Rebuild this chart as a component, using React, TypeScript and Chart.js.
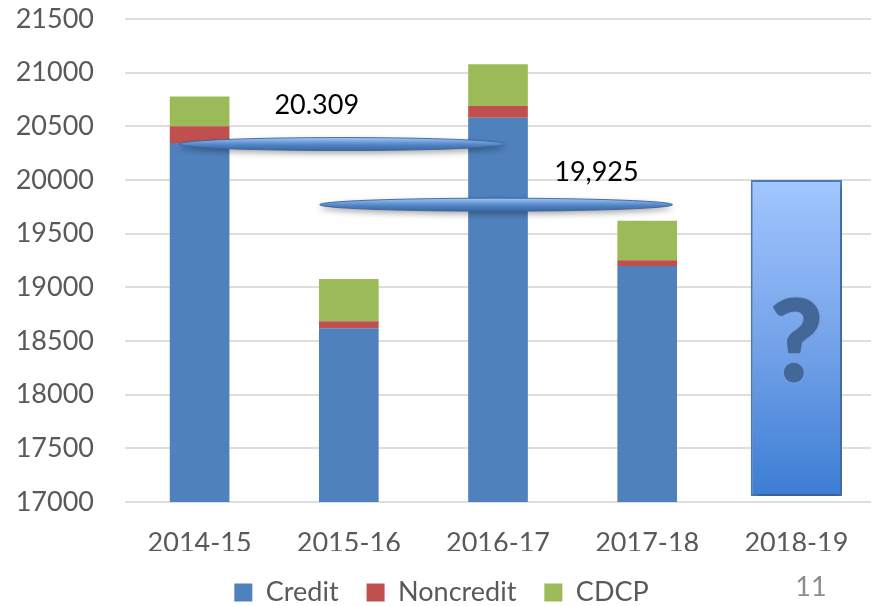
import React, { useEffect, useRef } from "react";
import { Chart, registerables } from "chart.js";

Chart.register(...registerables);

const categories = ["2014-15", "2015-16", "2016-17", "2017-18", "2018-19"];
const credit = [20345, 18618, 20581, 19199, null];
const noncredit = [155, 65, 109, 53, null];
const cdcp = [277, 395, 388, 369, null];
const projected = [null, null, null, null, [17056, 20000]];

const yMin = 17000;
const yMax = 21500;
const yStep = 500;

// Callout "capsules" (data coordinates: category index range and y value)
const capsuleLevels = [20335, 19770];
const capsuleFrom = [-0.134, 0.805];
const capsuleTo = [2.047, 3.17];
const capsuleLabels = ["20.309", "19,925"];
const capsuleLabelX = [0.785, 2.66];
const capsuleLabelY = [20699, 20070];

const pageNumber = "11";

const FONT = "Lato, 'Open Sans', sans-serif";
const TEXT = "#595959";

const overlayPlugin = {
  id: "overlay",
  beforeDatasetDraw(chart: any, args: any) {
    if (args.index === 3) {
      const ctx = chart.ctx;
      ctx.save();
      ctx.shadowColor = "rgba(0,0,0,0.35)";
      ctx.shadowBlur = 7;
      ctx.shadowOffsetX = 2;
      ctx.shadowOffsetY = 3;
    }
  },
  afterDatasetDraw(chart: any, args: any) {
    if (args.index === 3) chart.ctx.restore();
  },
  afterDatasetsDraw(chart: any) {
    const { ctx, scales } = chart;
    const x = scales.x;
    const y = scales.y;
    // question mark on projected bar
    const bar = chart.getDatasetMeta(3).data[4];
    if (bar) {
      const p = bar.getProps(["x", "y", "base"], true);
      const cy = (p.y + p.base) / 2;
      ctx.save();
      ctx.font = `bold 112px ${FONT}`;
      ctx.textAlign = "center";
      ctx.textBaseline = "middle";
      ctx.lineJoin = "round";
      ctx.strokeStyle = "rgba(120,160,220,0.95)";
      ctx.lineWidth = 5;
      ctx.strokeText("?", p.x, cy + 6);
      ctx.fillStyle = "#44679a";
      ctx.strokeStyle = "#44679a";
      ctx.lineWidth = 3;
      ctx.strokeText("?", p.x, cy + 6);
      ctx.fillText("?", p.x, cy + 6);
      ctx.restore();
    }
    // capsules
    for (let i = 0; i < capsuleLevels.length; i++) {
      const x1 = x.getPixelForValue(capsuleFrom[i]);
      const x2 = x.getPixelForValue(capsuleTo[i]);
      const cy = y.getPixelForValue(capsuleLevels[i]);
      const cx = (x1 + x2) / 2;
      const rx = (x2 - x1) / 2;
      const ry = 6.5;
      ctx.save();
      ctx.shadowColor = "rgba(0,0,0,0.35)";
      ctx.shadowBlur = 6;
      ctx.shadowOffsetY = 3;
      const g = ctx.createLinearGradient(0, cy - ry, 0, cy + ry);
      g.addColorStop(0, "#a9c8f2");
      g.addColorStop(0.35, "#6c9cdc");
      g.addColorStop(0.6, "#4f81bd");
      g.addColorStop(1, "#3a68a6");
      ctx.fillStyle = g;
      ctx.beginPath();
      ctx.ellipse(cx, cy, rx, ry, 0, 0, Math.PI * 2);
      ctx.fill();
      ctx.shadowColor = "transparent";
      ctx.strokeStyle = "rgba(58,100,160,0.9)";
      ctx.lineWidth = 1;
      ctx.stroke();
      ctx.restore();
    }
    // capsule labels
    ctx.save();
    ctx.font = `27px ${FONT}`;
    ctx.fillStyle = "#000000";
    ctx.textAlign = "center";
    ctx.textBaseline = "middle";
    for (let i = 0; i < capsuleLabels.length; i++) {
      ctx.fillText(
        capsuleLabels[i],
        x.getPixelForValue(capsuleLabelX[i]),
        y.getPixelForValue(capsuleLabelY[i])
      );
    }
    ctx.restore();
  },
  afterDraw(chart: any) {
    const ctx = chart.ctx;
    ctx.save();
    ctx.font = `27px ${FONT}`;
    ctx.fillStyle = "#8c8c8c";
    ctx.textAlign = "center";
    ctx.textBaseline = "middle";
    ctx.fillText(pageNumber, 811, 587);
    ctx.restore();
  },
};

export default function App() {
  const ref = useRef<HTMLCanvasElement>(null);
  useEffect(() => {
    if (!ref.current) return;
    const chart = new Chart(ref.current, {
      type: "bar",
      data: {
        labels: categories,
        datasets: [
          { label: "Credit", data: credit as any, backgroundColor: "#4f81bd", barPercentage: 0.5, categoryPercentage: 0.8 },
          { label: "Noncredit", data: noncredit as any, backgroundColor: "#c0504d", barPercentage: 0.5, categoryPercentage: 0.8 },
          { label: "CDCP", data: cdcp as any, backgroundColor: "#9bbb59", barPercentage: 0.5, categoryPercentage: 0.8 },
          {
            label: "Projected",
            data: projected as any,
            barPercentage: 0.765,
            categoryPercentage: 0.8,
            borderColor: "#4f7fbf",
            borderWidth: 2,
            borderSkipped: false,
            backgroundColor: (c: any) => {
              const ch = c.chart;
              const area = ch.chartArea;
              if (!area) return "#7aa6e6";
              const ys = ch.scales.y;
              const g = ch.ctx.createLinearGradient(0, ys.getPixelForValue(20000), 0, ys.getPixelForValue(17056));
              g.addColorStop(0, "#a2c6ff");
              g.addColorStop(0.5, "#76a4ea");
              g.addColorStop(1, "#3c7dd4");
              return g;
            },
          },
        ],
      },
      options: {
        responsive: false,
        animation: false,
        layout: { padding: { top: 19, left: 12, right: 4, bottom: 0 } },
        plugins: {
          tooltip: { enabled: false },
          legend: {
            position: "bottom",
            maxHeight: 55,
            labels: {
              filter: (item: any) => item.datasetIndex < 3,
              font: { family: FONT, size: 27 },
              color: TEXT,
              boxWidth: 18,
              boxHeight: 18,
              padding: 28,
            },
          },
        },
        scales: {
          x: {
            stacked: true,
            grid: { display: false, drawTicks: false },
            border: { display: false },
            ticks: { font: { family: FONT, size: 27 }, color: TEXT, padding: 25 },
            afterFit: (s: any) => {
              s.height = 49;
            },
          },
          y: {
            stacked: true,
            min: yMin,
            max: yMax,
            grid: { color: "#dedede", lineWidth: 2, drawTicks: false },
            border: { display: false },
            ticks: {
              stepSize: yStep,
              font: { family: FONT, size: 27 },
              color: TEXT,
              padding: 31,
              callback: (v: any) => String(v),
            },
            afterFit: (s: any) => {
              s.width = 113;
              s.paddingTop = 0;
              s.paddingBottom = 0;
            },
          },
        },
      },
      plugins: [overlayPlugin],
    } as any);
    return () => chart.destroy();
  }, []);
  return (
    <div style={{ position: "fixed", left: 0, top: 0, width: 875, height: 606, background: "#fff" }}>
      <canvas ref={ref} width={875} height={606} />
    </div>
  );
}
